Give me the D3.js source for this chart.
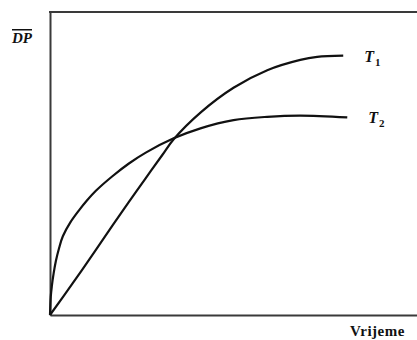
<!DOCTYPE html>
<html>
<head>
<meta charset="utf-8">
<script src="https://cdn.jsdelivr.net/npm/d3@7"></script>
<style>
  html, body { margin: 0; padding: 0; background: #fff; }
  svg { display: block; }
</style>
</head>
<body>
<div id="chart"></div>
<script>
// Time axis values (arbitrary units) and DP values for each curve
const t1Time = [0, 0.62, 1.25, 1.70, 2.15, 2.61, 3.06, 3.37, 4.10, 5.00, 5.92, 6.82, 7.28, 7.99];
const t1Value = [0, 1.05, 2.15, 2.95, 3.73, 4.52, 5.28, 5.80, 6.68, 7.50, 8.08, 8.42, 8.52, 8.56];
const t2Time = [0, 0.02, 0.05, 0.10, 0.16, 0.25, 0.35, 0.55, 0.80, 1.00, 1.25, 1.70, 2.15, 2.61, 3.37, 4.10, 5.00, 5.92, 6.82, 8.10];
const t2Value = [0, 0.60, 0.95, 1.38, 1.78, 2.22, 2.60, 3.05, 3.47, 3.77, 4.10, 4.58, 5.00, 5.36, 5.83, 6.16, 6.43, 6.54, 6.58, 6.52];
const seriesNames = ['1', '2'];
const yLabel = 'DP';
const xLabel = 'Vrijeme';

const width = 417, height = 340;
const margin = { top: 12, right: 0, bottom: 25, left: 50 };

const svg = d3.select('#chart')
    .append('svg')
    .attr('width', width)
    .attr('height', height);

const x = d3.scaleLinear()
    .domain([0, 10])
    .range([margin.left, width - margin.right]);

const y = d3.scaleLinear()
    .domain([0, 10])
    .range([height - margin.bottom, margin.top]);

// Frame: left, bottom and top lines
const axisColor = '#3a3a3a';
svg.append('g')
    .attr('transform', `translate(${margin.left},0)`)
    .call(d3.axisLeft(y).ticks(0).tickSizeOuter(0))
    .call(g => g.select('.domain').attr('stroke', axisColor).attr('stroke-width', 2));

svg.append('g')
    .attr('transform', `translate(0,${y(0)})`)
    .call(d3.axisBottom(x).ticks(0).tickSizeOuter(0))
    .call(g => g.select('.domain').attr('stroke', axisColor).attr('stroke-width', 2));

svg.append('line')
    .attr('x1', x(0) - 1)
    .attr('x2', x(10))
    .attr('y1', y(10))
    .attr('y2', y(10))
    .attr('stroke', axisColor)
    .attr('stroke-width', 2);

// Curves
const line = d3.line()
    .x(d => x(d[0]))
    .y(d => y(d[1]))
    .curve(d3.curveCatmullRom.alpha(0.5));

const series = [
    d3.zip(t1Time, t1Value),
    d3.zip(t2Time, t2Value)
];

series.forEach((pts, i) => {
    svg.append('path')
        .datum(pts)
        .attr('fill', 'none')
        .attr('stroke', '#111')
        .attr('stroke-width', 2.2)
        .attr('d', line);

    const last = pts[pts.length - 1];
    const label = svg.append('text')
        .attr('x', x(last[0]) + 21)
        .attr('y', y(last[1]) + 6)
        .style('font-family', '"Liberation Serif", "DejaVu Serif", serif')
        .style('font-style', 'italic')
        .style('font-weight', 'bold')
        .style('font-size', '16px')
        .attr('fill', '#111')
        .text('T');
    label.append('tspan')
        .attr('dx', 1)
        .attr('dy', 4)
        .style('font-style', 'normal')
        .style('font-size', '11px')
        .text(seriesNames[i]);
});

// Axis labels
svg.append('text')
    .attr('x', 12)
    .attr('y', 43)
    .style('font-family', '"Liberation Serif", "DejaVu Serif", serif')
    .style('font-style', 'italic')
    .style('font-weight', 'bold')
    .style('font-size', '15px')
    .style('text-decoration', 'overline')
    .attr('fill', '#111')
    .text(yLabel);

svg.append('text')
    .attr('x', 350)
    .attr('y', 336)
    .style('font-family', '"Liberation Serif", "DejaVu Serif", serif')
    .style('font-weight', 'bold')
    .style('font-size', '15px')
    .style('letter-spacing', '0.5px')
    .attr('fill', '#111')
    .text(xLabel);
</script>
</body>
</html>
